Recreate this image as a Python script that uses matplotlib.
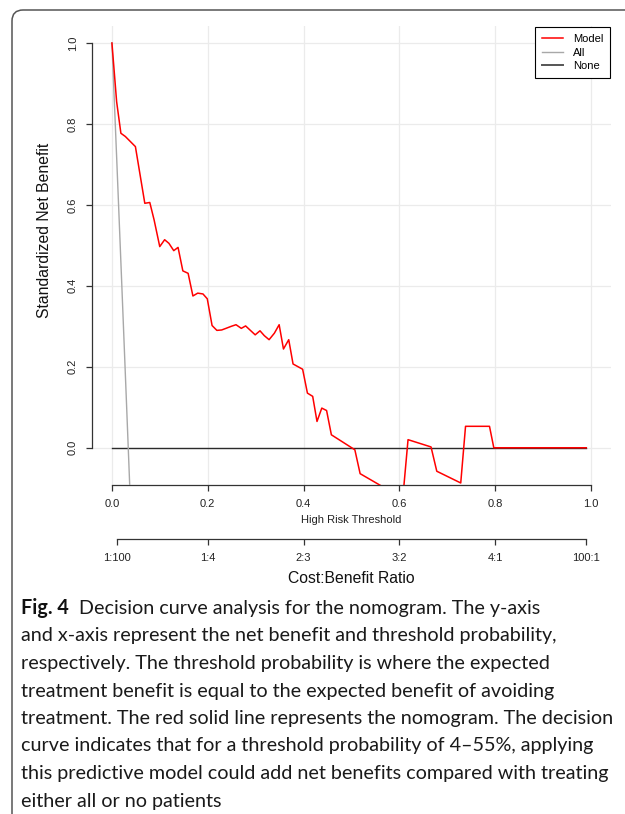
import matplotlib
matplotlib.use("Agg")
import matplotlib.pyplot as plt
from matplotlib.patches import FancyBboxPatch
from matplotlib.transforms import IdentityTransform

# decision curve data
model_x = [0, 0.0098, 0.0187, 0.028, 0.049, 0.0686, 0.079, 0.088, 0.0998, 0.110,
           0.119, 0.129, 0.138, 0.148, 0.159, 0.169, 0.179, 0.190, 0.199, 0.209,
           0.219, 0.229, 0.238, 0.249, 0.259, 0.270, 0.279, 0.289, 0.299, 0.309,
           0.318, 0.328, 0.339, 0.349, 0.358, 0.369, 0.378, 0.398, 0.408, 0.419,
           0.428, 0.438, 0.448, 0.458, 0.507, 0.518, 0.607, 0.618, 0.666, 0.678,
           0.728, 0.738, 0.788, 0.797, 0.99]
model_y = [1.0, 0.855, 0.777, 0.769, 0.744, 0.604, 0.606, 0.563, 0.497, 0.514,
           0.505, 0.487, 0.495, 0.437, 0.431, 0.375, 0.382, 0.380, 0.368, 0.302,
           0.290, 0.291, 0.295, 0.300, 0.304, 0.295, 0.301, 0.290, 0.279, 0.289,
           0.277, 0.267, 0.283, 0.304, 0.244, 0.267, 0.207, 0.194, 0.135, 0.127,
           0.065, 0.098, 0.092, 0.032, -0.005, -0.064, -0.125, 0.020, 0.002, -0.058,
           -0.087, 0.053, 0.053, 0.0, 0.0]
all_x = [0, 0.01, 0.02, 0.03, 0.04]
all_y = [1.0, 0.713, 0.42, 0.122, -0.18]
none_x = [0, 0.99]
none_y = [0, 0]

x_ticks = [0.0, 0.2, 0.4, 0.6, 0.8, 1.0]
y_ticks = [0.0, 0.2, 0.4, 0.6, 0.8, 1.0]
cb_ticks = [1 / 101, 0.2, 0.4, 0.6, 0.8, 100 / 101]
cb_labels = ["1:100", "1:4", "2:3", "3:2", "4:1", "100:1"]

caption_head = "Fig. 4"
caption_lines = [
    "Decision curve analysis for the nomogram. The y-axis",
    "and x-axis represent the net benefit and threshold probability,",
    "respectively. The threshold probability is where the expected",
    "treatment benefit is equal to the expected benefit of avoiding",
    "treatment. The red solid line represents the nomogram. The decision",
    "curve indicates that for a threshold probability of 4\u201355%, applying",
    "this predictive model could add net benefits compared with treating",
    "either all or no patients",
]

W, H = 625, 814
plt.rcParams["font.family"] = ["Liberation Sans", "DejaVu Sans"]
fig = plt.figure(figsize=(W / 100, H / 100), dpi=100)


def fx(px):
    return px / W


def fy(py):
    return 1 - py / H


axc = "#333333"
ax = fig.add_axes([fx(92), fy(485), fx(611) - fx(92), fy(26) - fy(485)])
ax.set_xlim(-0.0416, 1.0416)
ax.set_ylim(-0.092, 1.042)
for v in x_ticks:
    ax.axvline(v, color="#ebebeb", lw=0.9, zorder=0)
for v in y_ticks:
    ax.axhline(v, color="#ebebeb", lw=0.9, zorder=0)

ax.plot(none_x, none_y, color="#2b2b2b", lw=1.0, label="None", zorder=2)
ax.plot(all_x, all_y, color="#a8a8a8", lw=1.0, label="All", zorder=3)
ax.plot(model_x, model_y, color="#ff0000", lw=1.1, label="Model", zorder=4)

for s in ["top", "right"]:
    ax.spines[s].set_visible(False)
ax.spines["left"].set_bounds(0, 1)
ax.spines["bottom"].set_bounds(0, 1)
for s in ["left", "bottom"]:
    ax.spines[s].set_color(axc)
    ax.spines[s].set_linewidth(0.9)
ax.set_xticks(x_ticks)
ax.set_xticklabels([f"{v:.1f}" for v in x_ticks])
ax.set_yticks(y_ticks)
ax.set_yticklabels([f"{v:.1f}" for v in y_ticks], rotation=90, va="center")
ax.tick_params(length=4.3, width=0.9, color=axc, labelsize=8, pad=6, labelcolor="#222222")

ax.set_xlabel("High Risk Threshold", fontsize=8, color="#222222")
ax.xaxis.set_label_coords(0.5, (485 - 515) / 459)
fig.text(fx(45), fy(230), "Standardized Net Benefit", rotation=90,
         ha="center", va="center", fontsize=11.3, color="#111111")

h, l = ax.get_legend_handles_labels()
order = [2, 1, 0]
leg = ax.legend([h[i] for i in order], [l[i] for i in order], loc="upper right",
                bbox_to_anchor=(1.0, 1.0), borderaxespad=0.1, fontsize=8,
                fancybox=False, edgecolor="black", framealpha=1,
                handlelength=1.9, handletextpad=0.9, labelspacing=0.33, borderpad=0.62)
leg.get_frame().set_linewidth(0.8)
leg.legend_handles[2].set_color("#555555")
leg.legend_handles[2].set_linewidth(1.4)

# second axis: cost:benefit ratio
ax2 = fig.add_axes([fx(92), fy(539), fx(611) - fx(92), 0.0005])
ax2.set_xlim(ax.get_xlim())
ax2.set_yticks([])
for s in ["top", "right", "left"]:
    ax2.spines[s].set_visible(False)
ax2.patch.set_visible(False)
ax2.spines["bottom"].set_bounds(cb_ticks[0], cb_ticks[-1])
ax2.spines["bottom"].set_color(axc)
ax2.spines["bottom"].set_linewidth(0.9)
ax2.set_xticks(cb_ticks)
ax2.set_xticklabels(cb_labels)
ax2.tick_params(length=4.3, width=0.9, color=axc, labelsize=8, pad=6, labelcolor="#222222")
ax2.set_xlabel("Cost:Benefit Ratio", fontsize=11.3, color="#111111")
ax2.xaxis.set_label_coords(0.5, -(571 - 539) / 0.0005 / H)

# figure frame with rounded top-left corner
frame = FancyBboxPatch((12, -60), 800, H - 10 + 60,
                       boxstyle="round,pad=0,rounding_size=11",
                       transform=IdentityTransform(), fill=False,
                       edgecolor="#555555", lw=1.1)
fig.add_artist(frame)

# caption
cap_font = ["Lato", "DejaVu Sans"]
renderer = fig.canvas.get_renderer()
probe = fig.text(0, 0, caption_lines[6], fontsize=14, family=cap_font)
cap_size = 14 * 590 / probe.get_window_extent(renderer).width
probe.remove()

x0 = 21
base0 = 614
step = 27.5
head = fig.text(fx(x0), fy(base0), caption_head, fontsize=cap_size, family=cap_font,
                fontweight="bold", va="baseline", color="#111111")
hw = head.get_window_extent(renderer).width
for i, line in enumerate(caption_lines):
    xx = x0 + hw + 10 if i == 0 else x0
    fig.text(fx(xx), fy(base0 + i * step), line, fontsize=cap_size, family=cap_font,
             va="baseline", color="#1a1a1a")

fig.savefig("out.png", dpi=100)
